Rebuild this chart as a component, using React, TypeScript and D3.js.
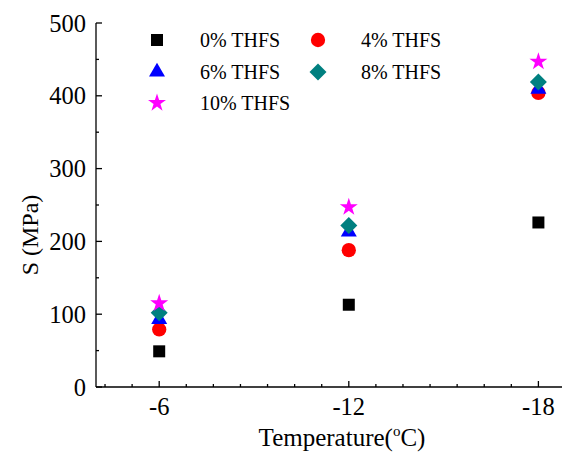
import React from "react";
import * as d3 from "d3";

const temps = [-6, -12, -18];
const s0 = [49, 113, 226];
const s4 = [79, 188, 404];
const s6 = [93, 213, 409];
const s8 = [102, 222, 419];
const s10 = [115, 247, 447];
const seriesNames = ["0% THFS", "4% THFS", "6% THFS", "8% THFS", "10% THFS"];
const yTicks = [0, 100, 200, 300, 400, 500];
const xTicks = [-6, -12, -18];

const W = 562, H = 457;
const L = 96, T = 23, B = 387;
const fontStyle = { fontFamily: '"Liberation Serif", "Times New Roman", Times, serif' };

function markerPath(kind: number): string {
  if (kind === 3) {
    const r = 8.5;
    return `M0,${-r}L${r},0L0,${r}L${-r},0Z`;
  }
  if (kind === 2) {
    const s = 16, h = s * Math.sqrt(3) / 2;
    return `M0,${-h * 2 / 3}L${s / 2},${h / 3}L${-s / 2},${h / 3}Z`;
  }
  const shapes = [d3.symbolSquare, d3.symbolCircle, d3.symbolTriangle, d3.symbolDiamond, d3.symbolStar];
  const sizes = [144, 160, 130, 150, 100];
  return d3.symbol(shapes[kind], sizes[kind])() || "";
}

function Marker({ kind, x, y, color }: { kind: number; x: number; y: number; color: string }) {
  return <path d={markerPath(kind)} transform={`translate(${x},${y})`} fill={color} />;
}

export default function App() {
  const x = d3.scaleLinear().domain([-4, -19]).range([L, L + 15 * 31.6]);
  const y = d3.scaleLinear().domain([0, 500]).range([B, T]);
  const colors = ["#000000", "#ff0000", "#0000ff", "#008080", "#ff00ff"];
  const series = [s0, s4, s6, s8, s10];
  const minorY = d3.range(50, 500, 100);
  const minorX: number[] = [];
  const step = 6 / 7;
  for (let k = -3; k <= 16; k++) {
    if (k % 7 === 0) continue;
    const v = -6 - k * step;
    if (v <= -4 && v >= -19) minorX.push(v);
  }
  const legendPos = [
    [157, 40], [318, 40], [157, 72], [318, 72], [157, 103],
  ];
  return (
    <svg width={W} height={H} style={{ position: "absolute", left: 0, top: 0, background: "#fff" }}>
      <rect width={W} height={H} fill="#fff" />
      <g style={fontStyle}>
        <line x1={L} y1={T} x2={L} y2={B} stroke="#000" strokeWidth={1.3} />
        <line x1={L} y1={B} x2={W} y2={B} stroke="#000" strokeWidth={1.3} />
        {yTicks.map((t) => (
          <g key={"y" + t}>
            <line x1={L} x2={L + 6} y1={y(t)} y2={y(t)} stroke="#000" strokeWidth={1.3} />
            <text x={86} y={y(t) + 8.5} textAnchor="end" fontSize={24.5} style={fontStyle}>{t}</text>
          </g>
        ))}
        {minorY.map((t) => (
          <line key={"my" + t} x1={L} x2={L + 3} y1={y(t)} y2={y(t)} stroke="#000" strokeWidth={1.3} />
        ))}
        {xTicks.map((t) => (
          <g key={"x" + t}>
            <line x1={x(t)} x2={x(t)} y1={B} y2={B - 6} stroke="#000" strokeWidth={1.3} />
            <text x={x(t)} y={415} textAnchor="middle" fontSize={24.5} style={fontStyle}>{t}</text>
          </g>
        ))}
        {minorX.map((t, i) => (
          <line key={"mx" + i} x1={x(t)} x2={x(t)} y1={B} y2={B - 3} stroke="#000" strokeWidth={1.3} />
        ))}
        <text x={342} y={446} textAnchor="middle" fontSize={25} style={fontStyle}>
          Temperature(<tspan fontSize={15} dy={-10}>o</tspan><tspan dy={10}>C)</tspan>
        </text>
        <text transform={`translate(38,235) rotate(-90)`} textAnchor="middle" fontSize={24} style={fontStyle}>S (MPa)</text>
        {series.map((s, k) =>
          s.map((v, i) => <Marker key={k + "-" + i} kind={k} x={x(temps[i])} y={y(v)} color={colors[k]} />)
        )}
        {seriesNames.map((n, k) => (
          <g key={"lg" + k}>
            <Marker kind={k} x={legendPos[k][0]} y={legendPos[k][1]} color={colors[k]} />
            <text x={legendPos[k][0] + 43} y={legendPos[k][1] + 7} fontSize={20} style={fontStyle}>{n}</text>
          </g>
        ))}
      </g>
    </svg>
  );
}
